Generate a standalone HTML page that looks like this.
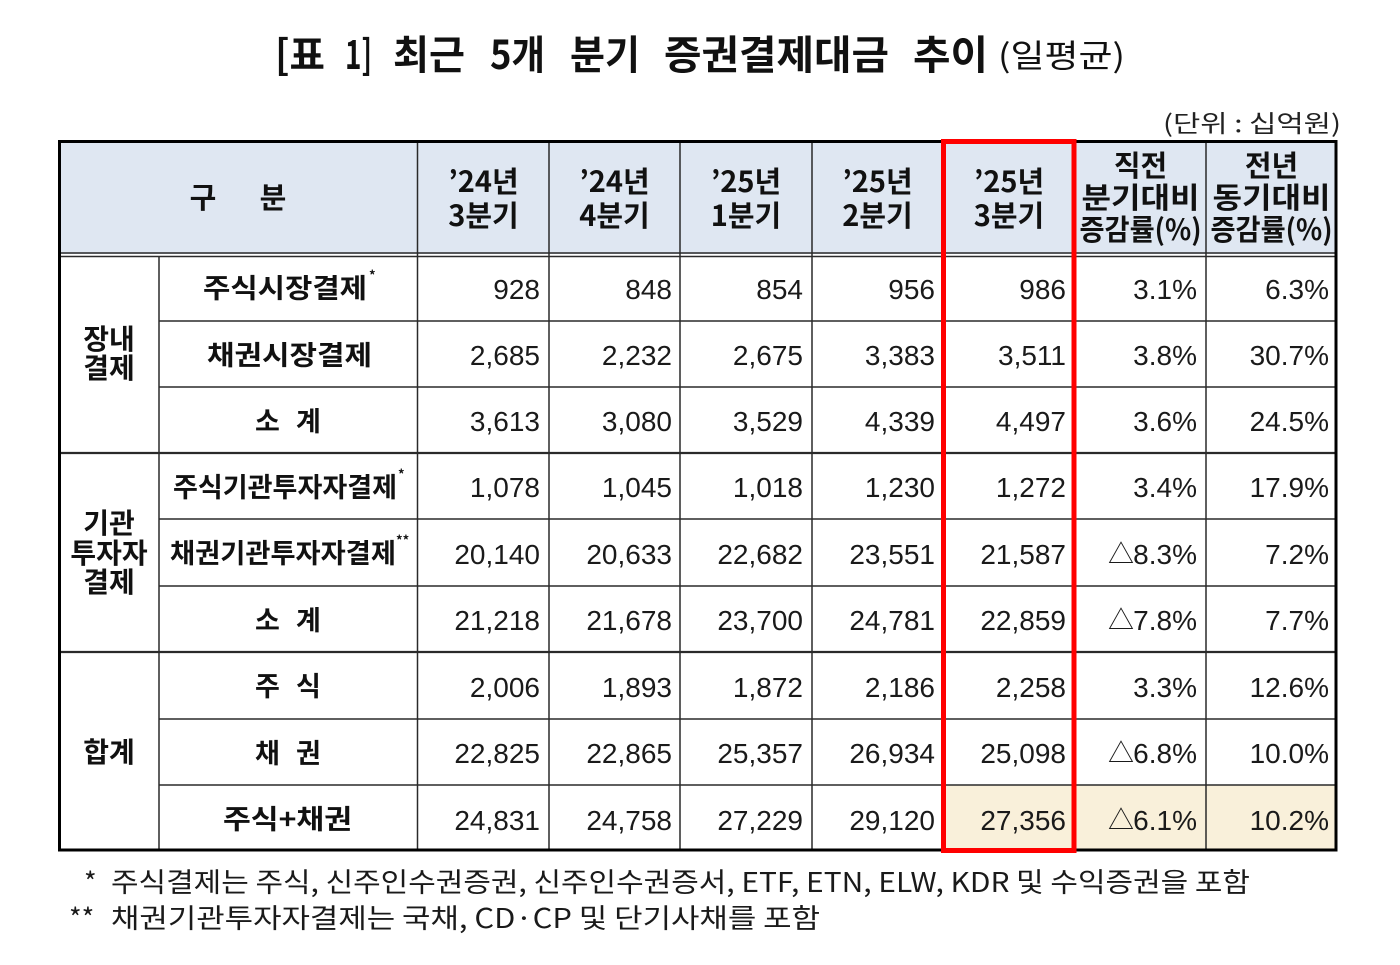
<!DOCTYPE html>
<html><head><meta charset="utf-8">
<style>
html,body{margin:0;padding:0;background:#fff;}
svg{display:block;}
.t{font-family:"Liberation Sans","Noto Sans CJK KR",sans-serif;}
.k{font-family:"Noto Sans CJK KR","Liberation Sans",sans-serif;}
</style></head>
<body>
<svg width="1400" height="965" viewBox="0 0 1400 965" xmlns="http://www.w3.org/2000/svg">
<rect width="1400" height="965" fill="#fff"/>
<!-- Title -->
<g class="k" font-weight="700" font-size="40" fill="#111">
<text x="275" y="69" textLength="50" lengthAdjust="spacingAndGlyphs">[표</text>
<text x="345" y="69" textLength="27" lengthAdjust="spacingAndGlyphs">1]</text>
<text x="393" y="69" textLength="72" lengthAdjust="spacingAndGlyphs">최근</text>
<text x="490" y="69" textLength="55" lengthAdjust="spacingAndGlyphs">5개</text>
<text x="570" y="69" textLength="70" lengthAdjust="spacingAndGlyphs">분기</text>
<text x="664" y="69" textLength="225" lengthAdjust="spacingAndGlyphs">증권결제대금</text>
<text x="913" y="69" textLength="75" lengthAdjust="spacingAndGlyphs">추이</text>
</g>
<text class="k" x="998" y="67" font-size="32" fill="#111" textLength="127" lengthAdjust="spacingAndGlyphs">(일평균)</text>
<text class="k" x="1163" y="132" font-size="24" fill="#222" textLength="178" lengthAdjust="spacingAndGlyphs">(단위 : 십억원)</text>

<!-- fills -->
<rect x="58" y="142" width="1279" height="112" fill="#dfe7f2"/>
<rect x="943" y="785" width="394" height="65" fill="#f9f0da"/>

<!-- inner lines -->
<g stroke="#2a2a2a" stroke-width="1.5" fill="none">
<line x1="159" y1="321" x2="1337" y2="321"/>
<line x1="159" y1="387" x2="1337" y2="387"/>
<line x1="159" y1="519" x2="1337" y2="519"/>
<line x1="159" y1="586" x2="1337" y2="586"/>
<line x1="159" y1="719" x2="1337" y2="719"/>
<line x1="159" y1="785" x2="1337" y2="785"/>
<line x1="58" y1="453" x2="1337" y2="453" stroke-width="2.2"/>
<line x1="58" y1="652" x2="1337" y2="652" stroke-width="2.2"/>
<line x1="58" y1="253" x2="1337" y2="253" stroke-width="1.4"/>
<line x1="58" y1="256.5" x2="1337" y2="256.5" stroke-width="1.4"/>
<line x1="159" y1="256" x2="159" y2="850"/>
<line x1="417.5" y1="142" x2="417.5" y2="850"/>
<line x1="549" y1="142" x2="549" y2="850"/>
<line x1="680" y1="142" x2="680" y2="850"/>
<line x1="812" y1="142" x2="812" y2="850"/>
<line x1="1206" y1="142" x2="1206" y2="850"/>
</g>
<rect x="59.5" y="141.5" width="1276.5" height="708.5" fill="none" stroke="#000" stroke-width="3"/>
<rect x="943.5" y="141.5" width="130.5" height="709" fill="none" stroke="#ff0000" stroke-width="5"/>

<!-- Header text -->
<g class="k" font-weight="700" font-size="29" fill="#111" text-anchor="middle">
<text x="203" y="208">구</text>
<text x="273" y="208">분</text>
<text x="483.5" y="192">’24년</text><text x="483.5" y="226">3분기</text>
<text x="614.5" y="192">’24년</text><text x="614.5" y="226">4분기</text>
<text x="746" y="192">’25년</text><text x="746" y="226">1분기</text>
<text x="877.5" y="192">’25년</text><text x="877.5" y="226">2분기</text>
<text x="1009" y="192">’25년</text><text x="1009" y="226">3분기</text>
<text x="1140.5" y="176">직전</text>
<text x="1140.5" y="208" textLength="118" lengthAdjust="spacingAndGlyphs">분기대비</text>
<text x="1140.5" y="240" textLength="122" lengthAdjust="spacingAndGlyphs">증감률(%)</text>
<text x="1271.5" y="176">전년</text>
<text x="1271.5" y="208" textLength="118" lengthAdjust="spacingAndGlyphs">동기대비</text>
<text x="1271.5" y="240" textLength="122" lengthAdjust="spacingAndGlyphs">증감률(%)</text>
</g>

<!-- Group labels -->
<g class="k" font-weight="700" font-size="28" fill="#111" text-anchor="middle">
<text x="109" y="349">장내</text>
<text x="109" y="378">결제</text>
<text x="109" y="533">기관</text>
<text x="109" y="563">투자자</text>
<text x="109" y="592">결제</text>
<text x="109" y="762">합계</text>
</g>

<!-- Row labels -->
<g class="k" font-weight="700" font-size="27" fill="#111">
<text x="203" y="298" textLength="164" lengthAdjust="spacingAndGlyphs">주식시장결제</text>
<text x="369" y="280" font-size="13">*</text>
<text x="207" y="365" textLength="165" lengthAdjust="spacingAndGlyphs">채권시장결제</text>
<text x="255" y="431">소</text><text x="296" y="431">계</text>
<text x="173" y="497" textLength="224" lengthAdjust="spacingAndGlyphs">주식기관투자자결제</text>
<text x="398" y="479" font-size="13">*</text>
<text x="170" y="563" textLength="226" lengthAdjust="spacingAndGlyphs">채권기관투자자결제</text>
<text x="396" y="545" font-size="13">**</text>
<text x="255" y="630">소</text><text x="296" y="630">계</text>
<text x="255" y="696">주</text><text x="296" y="696">식</text>
<text x="255" y="763">채</text><text x="296" y="763">권</text>
<text x="223" y="829" textLength="129" lengthAdjust="spacingAndGlyphs">주식+채권</text>
</g>

<!-- Data -->
<g class="t" font-size="28" fill="#1a1a1a" text-anchor="end">
<text x="540" y="299">928</text><text x="672" y="299">848</text><text x="803" y="299">854</text><text x="935" y="299">956</text><text x="1066" y="299">986</text><text x="1197" y="299">3.1%</text><text x="1329" y="299">6.3%</text>
<text x="540" y="365">2,685</text><text x="672" y="365">2,232</text><text x="803" y="365">2,675</text><text x="935" y="365">3,383</text><text x="1066" y="365">3,511</text><text x="1197" y="365">3.8%</text><text x="1329" y="365">30.7%</text>
<text x="540" y="431">3,613</text><text x="672" y="431">3,080</text><text x="803" y="431">3,529</text><text x="935" y="431">4,339</text><text x="1066" y="431">4,497</text><text x="1197" y="431">3.6%</text><text x="1329" y="431">24.5%</text>
<text x="540" y="497">1,078</text><text x="672" y="497">1,045</text><text x="803" y="497">1,018</text><text x="935" y="497">1,230</text><text x="1066" y="497">1,272</text><text x="1197" y="497">3.4%</text><text x="1329" y="497">17.9%</text>
<text x="540" y="564">20,140</text><text x="672" y="564">20,633</text><text x="803" y="564">22,682</text><text x="935" y="564">23,551</text><text x="1066" y="564">21,587</text><text x="1197" y="564">8.3%</text><text x="1329" y="564">7.2%</text>
<text x="540" y="630">21,218</text><text x="672" y="630">21,678</text><text x="803" y="630">23,700</text><text x="935" y="630">24,781</text><text x="1066" y="630">22,859</text><text x="1197" y="630">7.8%</text><text x="1329" y="630">7.7%</text>
<text x="540" y="697">2,006</text><text x="672" y="697">1,893</text><text x="803" y="697">1,872</text><text x="935" y="697">2,186</text><text x="1066" y="697">2,258</text><text x="1197" y="697">3.3%</text><text x="1329" y="697">12.6%</text>
<text x="540" y="763">22,825</text><text x="672" y="763">22,865</text><text x="803" y="763">25,357</text><text x="935" y="763">26,934</text><text x="1066" y="763">25,098</text><text x="1197" y="763">6.8%</text><text x="1329" y="763">10.0%</text>
<text x="540" y="830">24,831</text><text x="672" y="830">24,758</text><text x="803" y="830">27,229</text><text x="935" y="830">29,120</text><text x="1066" y="830">27,356</text><text x="1197" y="830">6.1%</text><text x="1329" y="830">10.2%</text>
</g>
<!-- triangles -->
<g class="k" font-size="26" fill="#1a1a1a">
<text x="1108" y="563">△</text>
<text x="1108" y="629">△</text>
<text x="1108" y="762">△</text>
<text x="1108" y="829">△</text>
</g>

<!-- Footnotes -->
<g class="k" font-size="27" fill="#1a1a1a">
<text x="84" y="892">*</text>
<text x="111" y="892" textLength="1139" lengthAdjust="spacingAndGlyphs">주식결제는 주식, 신주인수권증권, 신주인수권증서, ETF, ETN, ELW, KDR 및 수익증권을 포함</text>
<text x="69" y="928">**</text>
<text x="111" y="928" textLength="709" lengthAdjust="spacingAndGlyphs">채권기관투자자결제는 국채, CD·CP 및 단기사채를 포함</text>
</g>
</svg>
</body></html>
